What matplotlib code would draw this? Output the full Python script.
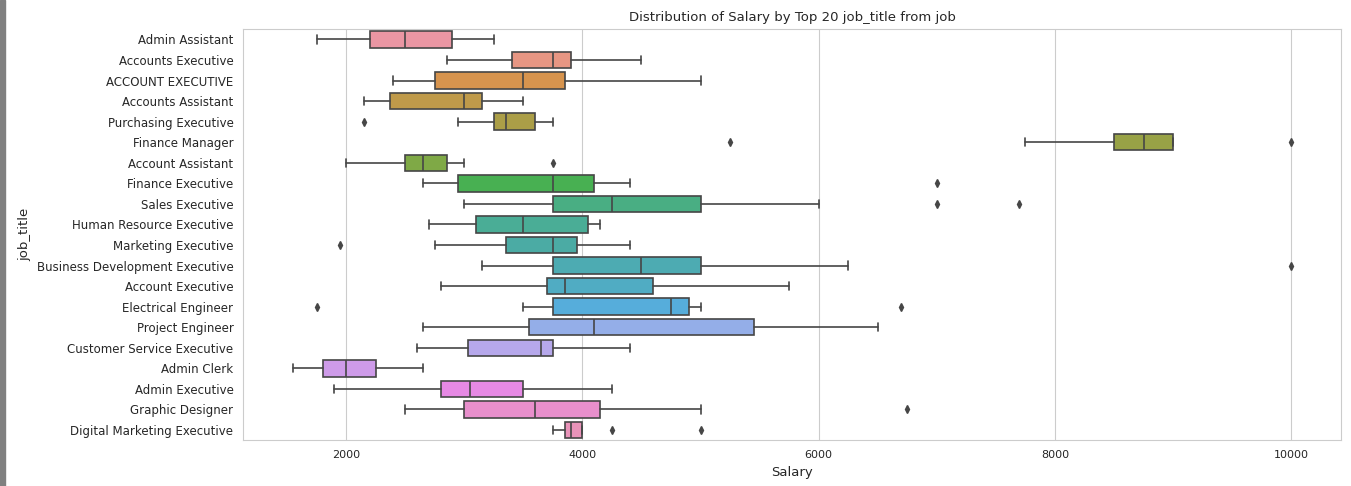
# -*- coding:utf-8 -*-
"""Salary distribution by job title, horizontal box plot"""

import colorsys
import numpy as np
import matplotlib
matplotlib.use("Agg")
import matplotlib.pyplot as plt
import matplotlib.patches as mpatches
import seaborn as sns

# job titles, top to bottom
titles = ["Admin Assistant", "Accounts Executive", "ACCOUNT EXECUTIVE", "Accounts Assistant",
          "Purchasing Executive", "Finance Manager", "Account Assistant", "Finance Executive",
          "Sales Executive", "Human Resource Executive", "Marketing Executive",
          "Business Development Executive", "Account Executive", "Electrical Engineer",
          "Project Engineer", "Customer Service Executive", "Admin Clerk", "Admin Executive",
          "Graphic Designer", "Digital Marketing Executive"]

# box statistics
whislo = [1750, 2850, 2400, 2150, 2950, 7750, 2000, 2650, 3000, 2700,
          2750, 3150, 2800, 3500, 2650, 2600, 1550, 1900, 2500, 3750]
q1 = [2200, 3400, 2750, 2375, 3250, 8500, 2500, 2950, 3750, 3100,
      3350, 3750, 3700, 3750, 3550, 3030, 1800, 2800, 3000, 3850]
med = [2500, 3750, 3500, 3000, 3350, 8750, 2650, 3750, 4250, 3500,
       3750, 4500, 3850, 4750, 4100, 3650, 2000, 3050, 3600, 3900]
q3 = [2900, 3900, 3850, 3150, 3600, 9000, 2850, 4100, 5000, 4050,
      3950, 5000, 4600, 4900, 5450, 3750, 2250, 3500, 4150, 4000]
whishi = [3250, 4500, 5000, 3500, 3750, 7750, 3000, 4400, 6000, 4150,
          4400, 6250, 5750, 5000, 6500, 4400, 2650, 4250, 5000, 4000]
fliers = [[], [], [], [], [2150], [5250, 10000], [3750], [7000], [7000, 7700], [],
          [1950], [10000], [], [1750, 6700], [], [], [], [], [6750], [4250, 5000]]

# finance manager: lower whisker only, upper whisker sits on box edge
whishi[5] = 9000

sns.set_style("whitegrid")
plt.rcParams['font.family'] = ['DejaVu Sans']

# seaborn-like colours: husl palette, desaturated
colors = sns.husl_palette(len(titles), l=.7)
colors = [sns.desaturate(c, .75) for c in colors]
lum = min(colorsys.rgb_to_hls(*c)[1] for c in colors)
gray = (lum * .6,) * 3

fig = plt.figure(figsize=(13.51, 4.86), dpi=100)
ax = fig.add_axes([0.18, 0.094, 0.8126, 0.846])

stats = []
for i, t in enumerate(titles):
    stats.append(dict(label=t, whislo=whislo[i], q1=q1[i], med=med[i], q3=q3[i],
                      whishi=whishi[i], fliers=np.array(fliers[i])))

bp = ax.bxp(stats, positions=np.arange(len(titles)), widths=.8, vert=False,
            patch_artist=True, manage_ticks=False,
            boxprops=dict(edgecolor=gray, linewidth=1.2),
            whiskerprops=dict(color=gray, linewidth=1.2),
            capprops=dict(color=gray, linewidth=1.2),
            medianprops=dict(color=gray, linewidth=1.2),
            flierprops=dict(marker='d', markerfacecolor=gray, markeredgecolor=gray,
                            markersize=4, linestyle='none'))
for box, c in zip(bp['boxes'], colors):
    box.set_facecolor(c)

ax.set_yticks(np.arange(len(titles)))
ax.set_yticklabels(titles, fontsize=8.5)
ax.set_ylim(len(titles) - .5, -.5)
ax.yaxis.grid(False)
ax.set_xlim(1128, 10422)
ax.set_xticks([2000, 4000, 6000, 8000, 10000])
ax.tick_params(axis='x', labelsize=8)
ax.set_xlabel("Salary", fontsize=9.5)
ax.set_ylabel("job_title", fontsize=9.5)
ax.set_title("Distribution of Salary by Top 20 job_title from job", fontsize=9.5)

# grey strip on the left edge of the screenshot
fig.patches.append(mpatches.Rectangle((0, 0), 0.0035, 1, transform=fig.transFigure,
                                      color='#808080', zorder=10))

fig.savefig("out.png", dpi=100)
